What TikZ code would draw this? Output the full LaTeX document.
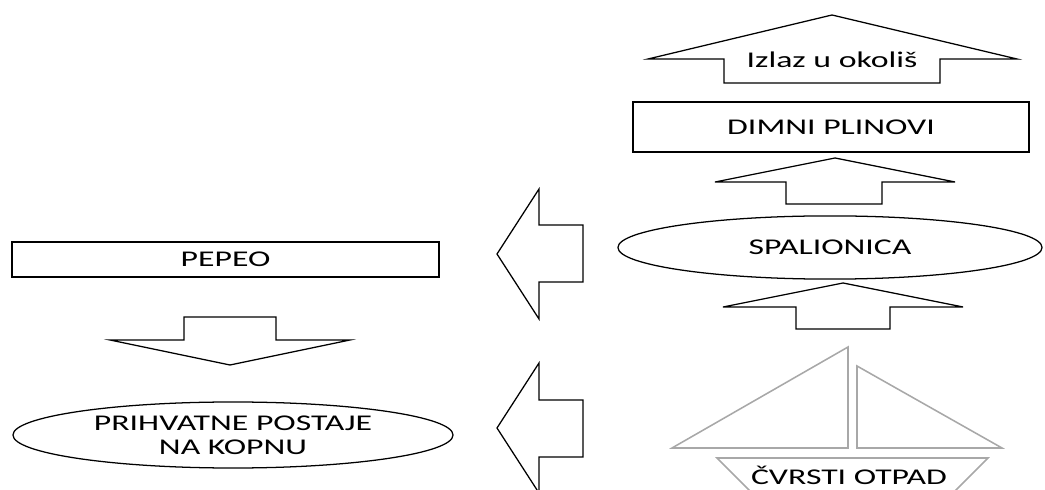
\documentclass[tikz,border=0pt]{standalone}
\usepackage{fontspec}
\setmainfont{Carlito}[FakeStretch=1.5]
\usepackage{tikz}
\usetikzlibrary{shapes.geometric}
\definecolor{sailgray}{RGB}{168,168,168}
\tikzset{
  blockarrow/.style={draw=black,line width=0.9pt,line join=miter},
  labelbox/.style={draw=black,line width=0.9pt,rectangle,inner sep=0pt},
  labeloval/.style={draw=black,line width=0.9pt,ellipse,inner sep=0pt,align=center},
  boatline/.style={draw=sailgray,line width=1.1pt,line join=miter}
}
\begin{document}
\begin{tikzpicture}[x=0.025cm,y=-0.025cm,font=\fontsize{16}{17}\selectfont]
\useasboundingbox (0,0) rectangle (1045,490);
\clip (0,0) rectangle (1045,490);

% exit to the environment
\draw [blockarrow] (832,15) -- (1017,59) -- (940,59) -- (940,83) -- (724,83) -- (724,59) -- (648,59) -- cycle;
\node [anchor=base] (izlaz) at (832,68) {Izlaz u okoliš};

\node [labelbox,minimum width=9.9cm,minimum height=1.25cm] (dimni) at (831,127) {DIMNI PLINOVI};

\draw [blockarrow] (835,158) -- (955,182) -- (882,182) -- (882,204) -- (786,204) -- (786,182) -- (715,182) -- cycle;

\node [labeloval,minimum width=10.6cm,minimum height=1.58cm] (spalionica) at (830,247.5) {SPALIONICA};

\draw [blockarrow] (843,283) -- (963,307) -- (890,307) -- (890,329) -- (796,329) -- (796,307) -- (723,307) -- cycle;

% arrows to the left
\draw [blockarrow] (497,254) -- (539,189) -- (539,225) -- (583,225) -- (583,282) -- (539,282) -- (539,319) -- cycle;
\draw [blockarrow] (497,428) -- (539,363) -- (539,400) -- (583,400) -- (583,457) -- (539,457) -- (539,493) -- cycle;

\node [labelbox,minimum width=10.67cm,minimum height=0.875cm] (pepeo) at (225.5,259.5) {PEPEO};

\draw [blockarrow] (230,365) -- (350,340) -- (276,340) -- (276,317) -- (184,317) -- (184,340) -- (110,340) -- cycle;

\node [labeloval,minimum width=11cm,minimum height=1.65cm] (kopno) at (233,435) {PRIHVATNE POSTAJE\\NA KOPNU};

% boat
\draw [boatline] (672,448) -- (848,347) -- (848,448) -- cycle;
\draw [boatline] (857,366) -- (857,448) -- (1002,448) -- cycle;
\draw [boatline] (717,458) -- (988,458) -- (946,500) -- (759,500) -- cycle;
\node [anchor=base] (otpad) at (849,485) {ČVRSTI OTPAD};

\end{tikzpicture}
\end{document}
